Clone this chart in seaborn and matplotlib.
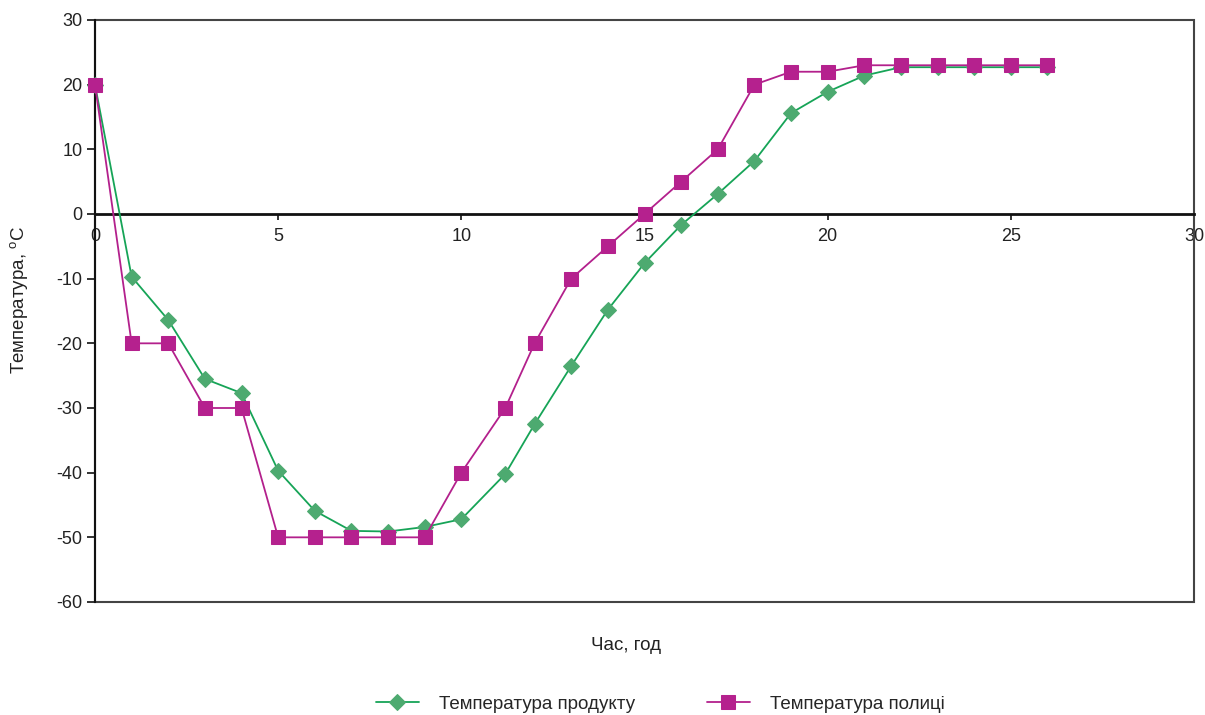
import matplotlib
matplotlib.use("Agg")
import matplotlib.pyplot as plt
import seaborn as sns
import pandas as pd
from matplotlib.patches import Rectangle

hours = [0, 1, 2, 3, 4, 5, 6, 7, 8, 9, 10, 11.2, 12, 13, 14, 15, 16, 17, 18, 19, 20, 21, 22, 23, 24, 25, 26]
product_temp = [20, -9.7, -16.4, -25.5, -27.7, -39.7, -45.9, -49.0, -49.1, -48.4, -47.2, -40.2, -32.5,
                -23.5, -14.8, -7.6, -1.7, 3.1, 8.2, 15.6, 18.9, 21.4, 22.7, 22.7, 22.7, 22.7, 22.7]
shelf_temp = [20, -20, -20, -30, -30, -50, -50, -50, -50, -50, -40, -30, -20,
              -10, -5, 0, 5, 10, 20, 22, 22, 23, 23, 23, 23, 23, 23]
series_names = ["Температура продукту", "Температура полиці"]
x_ticks = [0, 5, 10, 15, 20, 25, 30]
y_ticks = [-60, -50, -40, -30, -20, -10, 0, 10, 20, 30]

sns.set_style("white")
plt.rcParams["font.family"] = ["Liberation Sans", "DejaVu Sans"]
plt.rcParams["mathtext.fontset"] = "custom"
plt.rcParams["mathtext.rm"] = "Liberation Sans"
plt.rcParams["axes.unicode_minus"] = False

fig = plt.figure(figsize=(12.05, 7.15), dpi=100)
ax = fig.add_axes([95 / 1205, 1 - 602 / 715, (1194 - 95) / 1205, (602 - 20) / 715])

df_p = pd.DataFrame({"x": hours, "y": product_temp})
df_s = pd.DataFrame({"x": hours, "y": shelf_temp})

sns.lineplot(data=df_p, x="x", y="y", ax=ax, color="#16A457", lw=1.3, marker="D",
             markersize=8.5, markerfacecolor="#4DAA70", markeredgecolor="#4DAA70",
             sort=False, label=series_names[0], zorder=3, clip_on=False)
sns.lineplot(data=df_s, x="x", y="y", ax=ax, color="#B3208C", lw=1.3, marker="s",
             markersize=9.5, markerfacecolor="#B5218E", markeredgecolor="#B5218E",
             sort=False, label=series_names[1], zorder=4, clip_on=False)

ax.set_xlim(0, 30)
ax.set_ylim(-60, 30)
ax.set_xticks(x_ticks)
ax.set_yticks(y_ticks)

for s in ["top", "right"]:
    ax.spines[s].set_visible(False)
ax.spines["bottom"].set_position(("data", 0))
ax.spines["bottom"].set_color("#111111")
ax.spines["bottom"].set_linewidth(2.0)
ax.spines["left"].set_color("#111111")
ax.spines["left"].set_linewidth(1.5)
ax.add_patch(Rectangle((0, 0), 1, 1, transform=ax.transAxes, fill=False,
                       edgecolor="#444444", lw=1.5, zorder=1, clip_on=False))

ax.tick_params(axis="both", which="both", direction="out", width=1.2,
               color="#111111", labelsize=13, labelcolor="#222222",
               bottom=True, left=True, top=False, right=False)
ax.tick_params(axis="x", length=4, pad=6)
ax.tick_params(axis="y", length=6, pad=3)

ax.set_xlabel("Час, год", fontsize=13.5, color="#222222")
ax.set_ylabel("Температура, $^{\\mathrm{o}}$C", fontsize=13.5, color="#222222")
ax.xaxis.set_label_coords(0.483, -0.060)
ax.yaxis.set_label_coords(-0.058, 0.52)

ax.get_legend().remove()
handles, labels = ax.get_legend_handles_labels()
fig.legend(handles, labels, loc="center", bbox_to_anchor=(0.548, 0.015), ncol=2,
           frameon=False, fontsize=13.5, handlelength=2.3, columnspacing=3.8,
           handletextpad=1.1)

fig.savefig("out.png", dpi=100)
